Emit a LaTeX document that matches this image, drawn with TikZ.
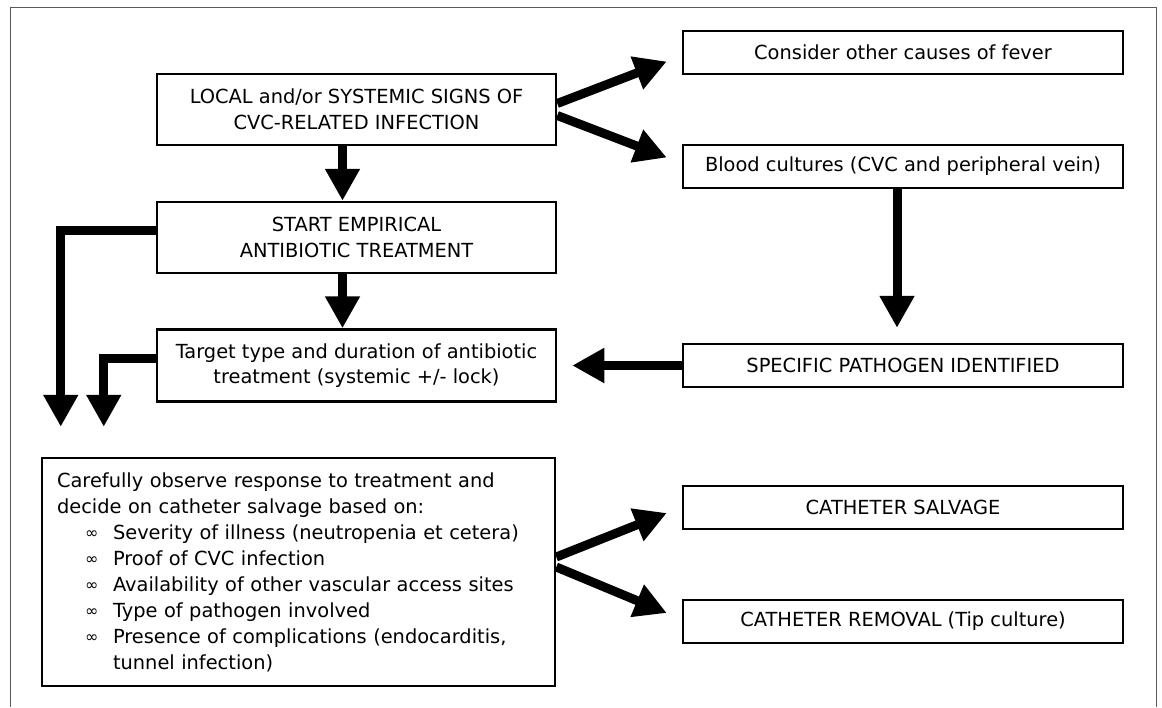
\documentclass[tikz,border=0pt]{standalone}
\usepackage{fontspec}
\setmainfont{DejaVu Sans}
\usetikzlibrary{arrows.meta}

\tikzset{
    box/.style={draw, line width=2.5pt, align=center, inner sep=0pt,
        font=\fontsize{19.4}{25.5}\selectfont},
    flow/.style={line width=9pt, -{Triangle[width=33pt,length=32pt]}},
}
\newcommand{\infbul}{\makebox[28pt][l]{\raisebox{0.5pt}{\fontsize{16}{16}\selectfont ∞}}}

\begin{document}
\begin{tikzpicture}[x=1pt,y=-1pt]
    \useasboundingbox (0,0) rectangle (1162,707);
    % 外框
    \draw[line width=1pt, black!65] (10,707) -- (10,7) -- (1156,7) -- (1156,707);

    % 左列
    \node[box, minimum width=399pt, minimum height=71pt] (signs) at (356.5,109.5)
        {LOCAL and/or SYSTEMIC SIGNS OF\\CVC-RELATED INFECTION};
    \node[box, minimum width=399pt, minimum height=71pt] (start) at (356.5,237.5)
        {START EMPIRICAL\\ANTIBIOTIC TREATMENT};
    \node[box, minimum width=399pt, minimum height=72pt] (target) at (356.5,365.5)
        {Target type and duration of antibiotic\\treatment (systemic +/- lock)};
    \node[box, minimum width=513pt, minimum height=228pt, text width=483pt, align=left,
        font=\fontsize{19.4}{26}\selectfont] (observe) at (298.5,572)
        {Carefully observe response to treatment and\\
         decide on catheter salvage based on:\\
         \hspace*{28pt}\infbul Severity of illness (neutropenia et cetera)\\
         \hspace*{28pt}\infbul Proof of CVC infection\\
         \hspace*{28pt}\infbul Availability of other vascular access sites\\
         \hspace*{28pt}\infbul Type of pathogen involved\\
         \hspace*{28pt}\infbul Presence of complications (endocarditis,\\
         \hspace*{56pt}tunnel infection)};

    % 右列
    \node[box, minimum width=440pt, minimum height=43pt] (fever) at (903,52.5)
        {Consider other causes of fever};
    \node[box, minimum width=440pt, minimum height=43pt] (blood) at (903,166.5)
        {Blood cultures (CVC and peripheral vein)};
    \node[box, minimum width=440pt, minimum height=43pt] (pathogen) at (903,365.5)
        {SPECIFIC PATHOGEN IDENTIFIED};
    \node[box, minimum width=440pt, minimum height=43pt] (salvage) at (903,507.5)
        {CATHETER SALVAGE};
    \node[box, minimum width=440pt, minimum height=43pt] (removal) at (903,621.5)
        {CATHETER REMOVAL (Tip culture)};

    % 箭头
    \draw[flow] ([xshift=-14pt]signs.south) -- ([xshift=-14pt]start.north);
    \draw[flow] ([xshift=-14pt]start.south) -- ([xshift=-14pt]target.north);
    \draw[flow] ([yshift=6pt]signs.east) -- ([xshift=-15pt,yshift=-9pt]fever.west);
    \draw[flow] ([yshift=-6pt]signs.east) -- ([xshift=-15pt,yshift=9pt]blood.west);
    \draw[flow] ([xshift=-6pt]blood.south) -- ([xshift=-6pt,yshift=15pt]pathogen.north);
    \draw[flow] (pathogen.west) -- ([xshift=15pt]target.east);

    \coordinate (s1) at ([xshift=20pt,yshift=30pt]observe.north west);
    \coordinate (t1) at ([xshift=63pt,yshift=30pt]observe.north west);
    \draw[flow] ([yshift=7pt]start.west) -| (s1);
    \draw[flow] ([yshift=7pt]target.west) -| (t1);

    \draw[flow] ([yshift=15pt]observe.east) -- ([xshift=-15pt,yshift=-5.5pt]salvage.west);
    \draw[flow] ([yshift=5pt]observe.east) -- ([xshift=-15pt,yshift=8.5pt]removal.west);
\end{tikzpicture}
\end{document}
